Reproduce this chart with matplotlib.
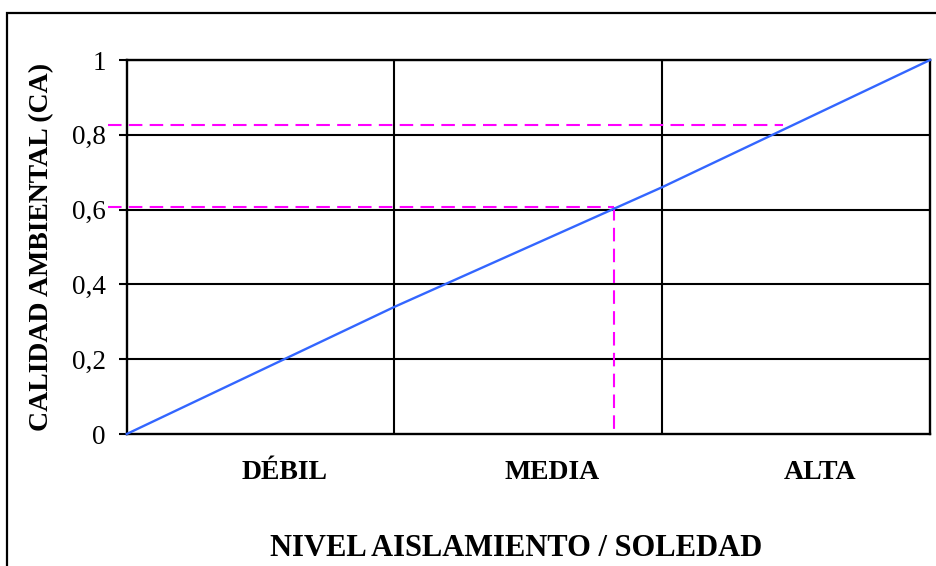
import matplotlib
matplotlib.use("Agg")
import matplotlib.pyplot as plt
import matplotlib.transforms as mtransforms
from matplotlib.patches import Rectangle

# Categories and curve
categories = ["DÉBIL", "MEDIA", "ALTA"]
curve_x = [0, 1, 2, 3]
curve_y = [0.0, 0.34, 0.66, 1.0]

# Reference readings on the curve (x in category units, y = CA)
guide_x = [1.82, 2.45]
guide_y = [0.607, 0.825]
guide_drop = [True, False]

y_ticks = [0, 0.2, 0.4, 0.6, 0.8, 1.0]
y_tick_labels = ["0", "0,2", "0,4", "0,6", "0,8", "1"]

plt.rcParams["font.family"] = ["Liberation Serif", "DejaVu Serif"]

W, H = 936, 566
fig = plt.figure(figsize=(W / 100, H / 100), dpi=100)
ax = fig.add_axes([126.7 / W, 1 - 434 / H, (930 - 126.7) / W, (434 - 60) / H])

ax.set_xlim(0, 3)
ax.set_ylim(0, 1)

# Outer frame of the chart area
fig.patches.append(Rectangle((7 / W, -0.1), 1.2, 1.1 - 13 / H,
                             transform=fig.transFigure, fill=False,
                             edgecolor="black", linewidth=1.6, zorder=0))

# Grid
for yv in y_ticks[1:]:
    ax.axhline(yv, color="black", linewidth=1.5, zorder=1)
for xv in [1, 2]:
    ax.axvline(xv, color="black", linewidth=1.5, zorder=1)

for s in ax.spines.values():
    s.set_linewidth(1.7)
    s.set_color("black")

# Dashed guides
dash_kw = dict(color="#FF00FF", linewidth=1.5, dashes=(6.5, 3.5), zorder=3,
               clip_on=False)
for gx, gy, drop in zip(guide_x, guide_y, guide_drop):
    ax.plot([-0.07, gx], [gy, gy], **dash_kw)
    if drop:
        ax.plot([gx, gx], [gy, 0], **dash_kw)

# Curve
ax.plot(curve_x, curve_y, color="#3366FF", linewidth=1.7, zorder=4,
        clip_on=False)

# Y axis ticks
ax.set_yticks(y_ticks)
ax.set_yticklabels(y_tick_labels, fontsize=19.5)
ax.tick_params(axis="y", direction="out", length=6, width=1.5, pad=9,
               colors="black")

# X axis category labels
ax.set_xticks([0.5, 1.5, 2.5])
ax.set_xticklabels(categories, fontsize=20, fontweight="bold")
ax.tick_params(axis="x", length=0, pad=19)
offset = mtransforms.ScaledTranslation(24 / 100, 0, fig.dpi_scale_trans)
for lbl in ax.get_xticklabels():
    lbl.set_transform(lbl.get_transform() + offset)

ax.set_xlabel("NIVEL AISLAMIENTO / SOLEDAD", fontsize=22,
              fontweight="bold")
ax.xaxis.set_label_coords(0.485, -0.268)
ax.set_ylabel("CALIDAD AMBIENTAL (CA)", fontsize=20, fontweight="bold",
              labelpad=13)

fig.savefig("out.png", dpi=100)
